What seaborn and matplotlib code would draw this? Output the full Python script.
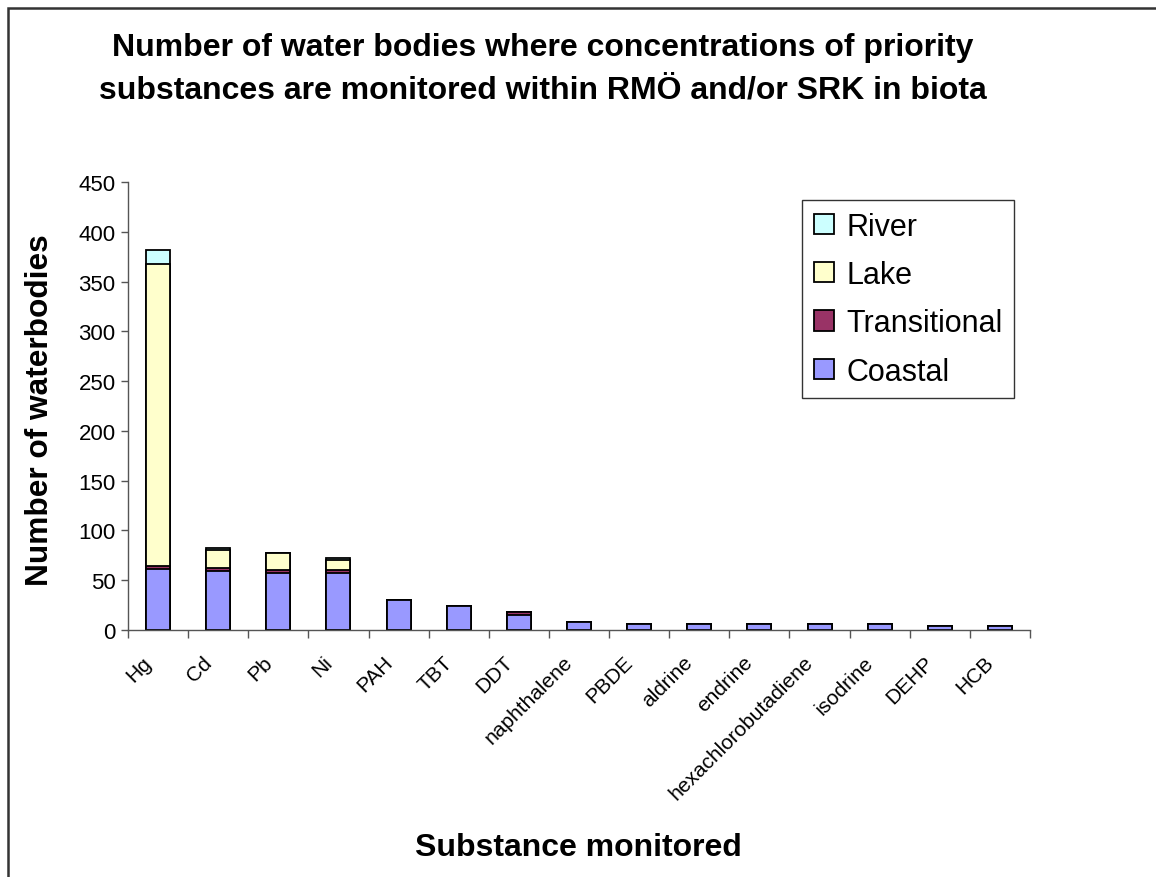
import numpy as np
import pandas as pd
import seaborn as sns
import matplotlib
matplotlib.use("Agg")
import matplotlib.pyplot as plt
from matplotlib.patches import Patch, Rectangle
from matplotlib.transforms import ScaledTranslation

substances = ["Hg", "Cd", "Pb", "Ni", "PAH", "TBT", "DDT", "naphthalene", "PBDE",
              "aldrine", "endrine", "hexachlorobutadiene", "isodrine", "DEHP", "HCB"]
coastal = [61, 59, 57, 57, 30, 24, 15, 8, 6, 6, 6, 6, 6, 4, 4]
transitional = [3, 3, 3, 3, 0, 0, 3, 0, 0, 0, 0, 0, 0, 0, 0]
lake = [304, 18, 17, 10, 0, 0, 0, 0, 0, 0, 0, 0, 0, 0, 0]
river = [14, 2, 0, 2, 0, 0, 0, 0, 0, 0, 0, 0, 0, 0, 0]

series_names = ["Coastal", "Transitional", "Lake", "River"]
series_colors = {"River": "#CCFFFF", "Lake": "#FFFFCC",
                 "Transitional": "#993366", "Coastal": "#9999FF"}

sns.set_theme(style="white")
plt.rcParams["font.family"] = ["Liberation Sans", "DejaVu Sans"]
plt.rcParams["text.color"] = "black"

df = pd.DataFrame({"substance": substances, "Coastal": coastal,
                   "Transitional": transitional, "Lake": lake, "River": river})
# cumulative tops of each stacked segment
cum = df[series_names].cumsum(axis=1)

fig = plt.figure(figsize=(11.56, 8.78), dpi=100)
ax = fig.add_axes([128 / 1156, 1 - 631 / 878, 902 / 1156, 448 / 878])

# draw from the tallest stack level down so lower segments sit on top
for name in reversed(series_names):
    sns.barplot(x=df["substance"], y=cum[name], color=series_colors[name],
                width=0.4, edgecolor="black", linewidth=1.3, saturation=1,
                ax=ax, order=substances)

ax.set_xlim(-0.5, len(substances) - 0.5)
ax.set_ylim(0, 450)
ax.set_yticks(np.arange(0, 451, 50))
ax.set_xlabel("")
ax.set_ylabel("")

for s in ["top", "right"]:
    ax.spines[s].set_visible(False)
for s in ["left", "bottom"]:
    ax.spines[s].set_color("#555555")
    ax.spines[s].set_linewidth(1.0)

ax.tick_params(axis="y", direction="out", length=5, width=1, color="#555555",
               labelcolor="black", labelsize=16, pad=4, left=True)
ax.set_xticks(np.arange(len(substances)))
ax.set_xticklabels(substances, rotation=45, ha="right", rotation_mode="anchor")
ax.tick_params(axis="x", which="major", length=0, labelsize=15,
               labelcolor="black", pad=16)
ax.set_xticks(np.arange(-0.5, len(substances), 1.0), minor=True)
ax.tick_params(axis="x", which="minor", direction="out", length=6, width=1,
               color="#555555", bottom=True)
shift = ScaledTranslation(-16 / 100, 0, fig.dpi_scale_trans)
for lbl in ax.get_xticklabels():
    lbl.set_transform(lbl.get_transform() + shift)

handles = [Patch(facecolor=series_colors[n], edgecolor="black", linewidth=1.3, label=n)
           for n in ["River", "Lake", "Transitional", "Coastal"]]
leg = fig.legend(handles=handles, loc="upper right",
                 bbox_to_anchor=(1014 / 1156, 1 - 201 / 878),
                 bbox_transform=fig.transFigure, fontsize=22, frameon=True,
                 fancybox=False, edgecolor="black", handlelength=0.65,
                 handleheight=0.65, handletextpad=0.4, labelspacing=0.6,
                 borderpad=0.38, borderaxespad=0)
leg.get_frame().set_linewidth(1.0)
for t in leg.get_texts():
    t.set_color("black")

fig.text(543 / 1156, 1 - 69 / 878,
         "Number of water bodies where concentrations of priority\n"
         "substances are monitored within RMÖ and/or SRK in biota",
         ha="center", va="center", fontsize=23, fontweight="bold", linespacing=1.55)
fig.text(40 / 1156, 1 - 410 / 878, "Number of waterbodies", rotation=90,
         ha="center", va="center", fontsize=22.8, fontweight="bold")
fig.text(578 / 1156, 1 - 848 / 878, "Substance monitored",
         ha="center", va="center", fontsize=23, fontweight="bold")

fig.patches.append(Rectangle((8 / 1156, -0.1), 1.2, 1.1 - 9 / 878,
                             transform=fig.transFigure, fill=False,
                             edgecolor="#333333", linewidth=1.8))

fig.savefig("out.png", dpi=100)
